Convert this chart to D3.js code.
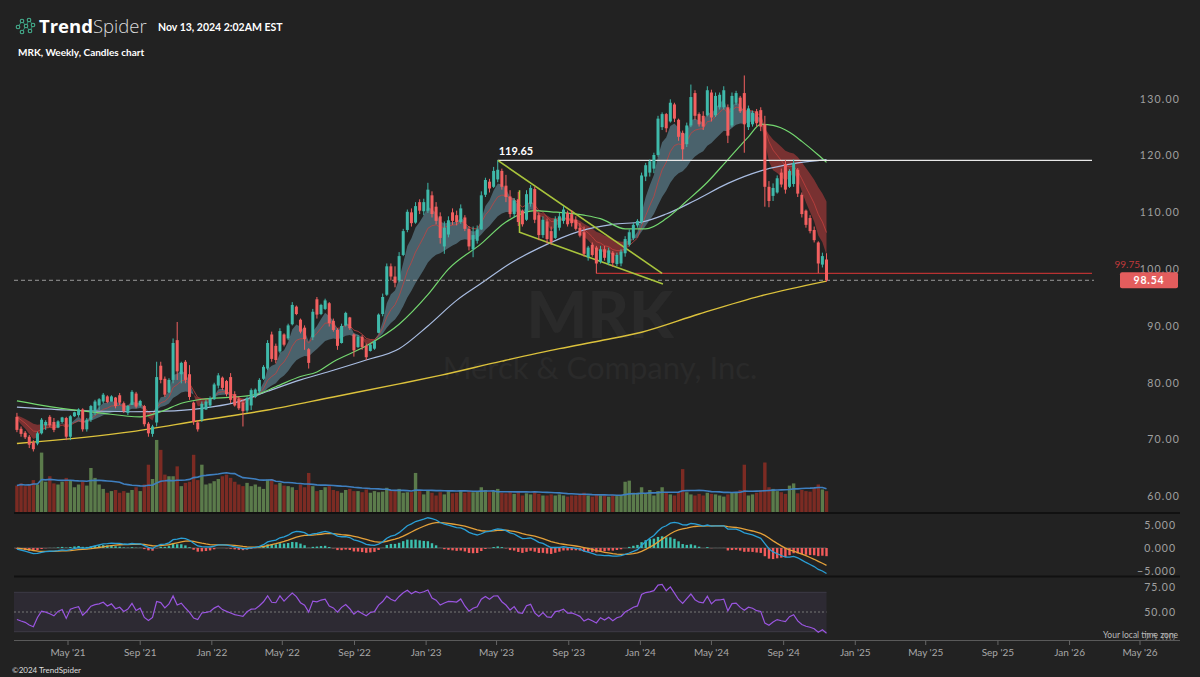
<!DOCTYPE html>
<html><head><meta charset="utf-8">
<script src="https://cdn.jsdelivr.net/npm/d3@7/dist/d3.min.js"></script>
<style>html,body{margin:0;padding:0;background:#222;}svg{display:block;}</style>
</head><body>
<svg id="chart" width="1200" height="677"></svg>
<script>
// ---------------- DATA ----------------
const ticker = "MRK";
const companyName = "Merck & Company, Inc.";
const firstWeek = "2021-02-01"; // weekly candles, one per week from here
const opens = [74.5,72.4,71.7,71.0,70.0,69.8,71.6,73.0,74.5,73.6,72.6,73.6,74.3,71.0,74.6,74.8,75.8,72.3,74.0,75.5,
76.5,77.2,78.1,77.2,77.9,78.3,76.9,75.2,76.6,78.6,76.5,76.4,73.3,71.5,73.5,83.5,81.2,78.8,81.0,88.0,
82.0,84.2,82.0,77.0,73.5,74.0,75.8,76.5,77.6,80.0,81.4,80.8,81.5,78.5,77.6,77.0,75.6,76.5,78.0,79.0,
81.2,83.0,89.0,87.0,86.0,89.0,88.3,90.8,93.9,91.6,90.2,86.4,88.5,95.2,92.6,93.5,94.5,91.4,89.8,87.5,
90.6,92.0,89.0,86.8,88.6,87.0,86.1,86.5,89.3,92.6,96.0,101.0,99.2,98.5,103.0,107.4,110.5,108.7,112.3,110.7,
110.8,113.5,111.5,109.8,104.5,106.6,110.5,110.0,108.8,109.6,107.6,104.0,105.5,107.5,113.6,115.9,115.0,116.3,117.8,115.2,
113.3,110.2,112.8,110.8,109.2,112.0,114.6,110.0,106.5,108.9,107.2,106.0,107.8,109.0,110.4,110.2,109.2,107.8,107.0,102.6,
104.8,104.3,101.8,104.0,101.6,103.4,101.4,101.5,103.3,104.8,106.0,108.2,108.8,116.8,117.5,118.2,120.6,125.5,127.8,126.5,
129.5,126.8,124.5,122.5,125.8,131.5,127.8,127.5,127.6,131.6,127.6,129.0,129.0,129.0,125.8,129.8,130.7,131.5,125.5,126.0,
128.3,128.5,126.0,115.0,113.4,114.0,117.5,119.0,115.0,115.5,118.0,113.6,110.8,109.5,107.4,105.2,101.3,102.2];
const highs = [75.2,72.8,72.0,71.3,70.4,71.9,74.3,73.9,74.8,74.3,73.9,74.5,74.5,74.8,75.4,76.0,76.0,74.3,76.6,77.5,
77.8,78.7,78.3,78.3,78.0,78.7,77.2,76.6,79.2,78.9,77.5,76.6,73.6,73.1,84.2,84.2,81.6,81.3,88.3,91.2,
84.2,84.5,83.6,77.2,73.9,77.2,77.5,78.1,80.5,82.2,81.6,81.0,82.2,79.0,78.1,77.5,78.1,79.5,79.5,81.3,
83.6,88.0,89.5,87.4,90.1,89.2,90.9,94.7,94.1,91.8,90.6,86.6,93.5,95.6,94.4,95.3,94.7,91.8,90.1,90.9,
93.0,92.1,89.2,88.9,88.9,87.4,87.4,88.0,92.7,96.2,101.5,101.5,101.0,103.5,107.6,111.0,111.2,112.3,112.8,112.9,
115.7,114.2,112.3,110.5,108.9,109.8,111.2,110.8,111.9,110.0,108.1,108.0,108.2,114.2,116.6,116.4,118.5,119.65,118.2,117.1,
114.4,113.0,114.1,111.0,114.4,115.3,115.0,110.5,109.8,109.4,108.0,109.8,110.4,111.6,110.8,110.9,109.8,108.6,108.0,104.6,
105.2,104.6,104.6,104.6,104.3,103.7,103.4,104.0,106.3,107.5,108.7,109.3,117.5,119.2,119.8,121.0,127.5,128.1,128.0,130.4,
129.8,127.0,124.9,126.3,133.0,132.0,128.1,128.3,132.7,132.1,131.6,131.6,132.7,129.5,131.6,131.9,131.0,134.6,129.3,128.4,
128.7,129.0,127.5,116.0,115.6,117.0,118.2,119.7,118.1,119.8,118.3,114.0,111.0,110.0,108.0,105.4,103.4,103.3];
const lows = [71.8,71.0,70.6,69.0,68.4,69.5,71.4,72.2,72.7,71.8,72.5,73.4,70.4,70.4,74.5,74.5,71.9,71.9,73.6,74.8,
75.7,76.9,76.9,77.2,76.0,76.6,75.2,74.8,76.6,76.0,76.3,72.8,71.0,71.0,72.8,80.4,78.0,78.7,80.4,81.0,
80.4,80.4,77.5,73.1,71.9,73.6,75.7,76.1,77.5,79.5,79.2,78.1,76.9,76.3,75.7,72.8,75.2,75.7,77.8,78.6,
81.0,82.7,84.2,83.9,85.7,86.9,88.0,90.6,92.4,89.2,86.3,83.0,88.0,91.8,92.4,93.3,90.4,89.5,86.3,87.4,
90.4,89.8,85.1,86.6,86.3,84.5,86.0,86.3,89.2,92.2,95.8,98.5,97.3,98.2,102.8,107.0,108.0,108.5,110.2,110.0,
110.4,109.6,108.4,105.0,103.2,106.1,108.3,108.2,108.5,107.2,103.8,102.6,105.0,107.4,113.2,114.0,114.8,115.8,114.5,112.3,
109.6,109.6,108.1,108.0,109.0,111.5,108.6,105.6,106.0,105.0,104.8,105.8,107.3,108.5,108.0,108.0,107.3,106.1,102.7,102.0,
102.7,99.75,101.5,102.0,101.2,100.9,101.0,101.0,102.7,104.5,105.6,107.8,108.5,116.0,116.8,117.4,120.3,125.0,124.6,126.3,
126.4,123.1,119.7,122.0,125.5,126.8,125.6,125.0,127.4,126.5,127.3,128.6,128.6,122.7,125.5,129.4,128.0,121.0,125.0,125.6,
125.6,124.8,111.5,111.4,112.5,113.8,114.9,113.8,114.8,115.0,113.2,109.6,107.8,106.8,105.2,99.8,100.8,98.3];
const closes = [72.2,71.5,70.9,69.6,68.8,71.6,74.0,73.6,73.0,72.2,73.7,74.4,71.0,74.6,75.3,75.8,72.3,74.0,76.4,77.2,
77.6,78.4,77.1,78.1,76.4,77.0,75.5,76.4,78.9,76.3,77.3,73.2,71.6,72.8,81.5,81.0,78.4,81.0,87.5,82.5,
84.0,81.0,78.0,73.6,72.3,76.8,77.2,77.8,80.2,81.8,79.6,78.5,77.5,76.5,76.0,75.5,77.8,79.2,79.3,81.0,
83.3,87.5,84.7,84.5,89.6,87.2,90.6,94.2,92.6,89.5,88.2,84.0,93.0,92.5,94.2,95.0,91.0,89.8,87.0,90.5,
92.8,90.1,86.2,88.6,86.8,85.0,87.2,87.8,92.5,95.6,101.0,99.2,98.1,102.8,107.2,110.6,108.6,111.6,110.8,112.3,
114.5,110.2,109.0,106.0,107.8,109.1,109.0,108.8,111.2,107.6,104.5,106.5,107.5,113.5,116.2,114.7,117.8,118.0,115.0,113.2,
110.2,112.6,108.8,108.4,113.7,114.8,109.2,106.5,109.2,105.8,105.3,109.3,109.8,111.0,108.4,108.6,107.6,106.4,103.2,104.3,
103.0,101.5,104.0,102.5,103.8,101.6,103.0,103.6,105.8,107.0,108.3,109.0,117.0,118.8,119.5,120.6,127.0,127.8,125.3,129.8,
127.0,123.8,121.6,125.8,130.8,127.5,126.0,125.6,132.0,127.2,131.0,131.2,132.0,124.0,131.0,131.5,128.3,126.0,128.8,128.0,
126.2,125.6,115.0,112.5,114.8,116.5,115.4,114.5,117.8,119.2,113.8,110.2,108.3,107.2,105.6,101.5,102.8,98.54];
const volumes = [48,52,47,50,58,50,108,55,65,52, 50,55,62,58,45,50,55,48,80,62,
50,42,35,38,40,35,38,35,40,45, 38,50,86,60,131,113,68,65,65,83,
47,53,55,104,58,86,50,52,56,60, 65,68,62,55,50,47,53,47,50,46,
42,59,60,50,53,48,47,45,40,50, 45,71,47,38,40,45,47,40,38,35,
40,42,38,38,36,41,35,38,36,37, 44,40,38,42,35,36,36,71,38,32,
40,35,30,36,32,38,34,35,40,35, 38,36,38,45,40,36,38,42,35,34,
38,33,36,30,34,32,36,33,30,30, 32,30,32,30,28,30,30,32,35,30,
28,32,30,30,28,30,29,31,55,57, 35,35,45,33,40,30,38,45,35,32,
30,35,78,36,32,30,33,30,35,33, 32,30,28,32,36,35,40,86,30,32,
35,40,90,45,42,38,36,33,48,52, 34,40,38,37,45,50,41,38]; // millions

// long moving averages: [week index, value]
const sma30 = [[0,77.3],[8,76.3],[20,75.2],[30,74.5],[35,75.4],[40,76.9],[45,77.6],[53,78.0],[58,78.4],[63,79.8],[69,81.6],[73,82.4],[77,84.2],[85,87.0],[93,90.8],[100,96.0],[105,100.5],[113,105.0],[119,108.8],[126,110.8],[130,110.6],[138,110.0],[142,109.4],[148,107.6],[153,107.6],[158,109.4],[163,112.5],[168,115.8],[173,119.8],[178,123.8],[181,126.0],[184,125.8],[188,124.6],[191,123.0],[195,120.6],[197,119.3]];
const sma50 = [[0,76.2],[12,75.7],[28,75.4],[36,75.5],[45,76.0],[53,77.0],[61,79.0],[69,81.0],[77,82.7],[85,84.5],[93,86.5],[100,90.5],[107,95.0],[113,98.0],[120,101.5],[127,104.2],[137,107.2],[145,108.4],[152,108.8],[158,110.2],[165,112.6],[173,115.6],[181,117.8],[190,119.2],[197,119.8]];
const sma200 = [[0,69.8],[28,71.9],[45,73.9],[61,75.7],[77,78.0],[93,80.3],[103,81.8],[118,84.3],[132,86.5],[142,87.9],[152,89.4],[166,92.6],[181,95.8],[197,98.4]];

// drawings
const resistance = {start:117, price:119.65, label:"119.65"};
const supportLevel = {start:141, price:99.75, label:"99.75"};
const lastPrice = 98.54;
const wedgeUpper = [[117,119.65],[157,99.77]];
const wedgeLower = [[122.3,114.4],[122.3,107.0],[157.2,97.9]];

// indicator seeds (state before first visible week)
const priorClose = 74.6, emaSeed = 75.0, rsiSeedGain = 0.65, rsiSeedLoss = 0.70;
const ribbonFast = 5, ribbonSlow = 21, ribbonMid = 10;

// axis labels
const priceTicks = [60,70,80,90,100,110,120,130];
const macdTicks = [5,0,-5];
const rsiTicks = [75,50,25];
const timeTicks = ["2021-05-01","2021-09-01","2022-01-01","2022-05-01","2022-09-01","2023-01-01","2023-05-01","2023-09-01","2024-01-01","2024-05-01","2024-09-01","2025-01-01","2025-05-01","2025-09-01","2026-01-01","2026-05-01"];

// ---------------- DRAW ----------------
const svg = d3.select("#chart");
const BG = "#222222";
svg.append("rect").attr("width",1200).attr("height",677).attr("fill",BG);
const FONT = "Lato, 'Open Sans', sans-serif";

const day = 864e5;
const t0 = new Date(firstWeek + "T00:00:00Z").getTime();
const dateOf = i => new Date(t0 + i*7*day + 2*day);
const n = closes.length;

const x = d3.scaleUtc().domain([new Date("2021-05-01T00:00:00Z"), new Date("2026-05-01T00:00:00Z")]).range([68,1140]);
const y = d3.scaleLinear().domain([60,130]).range([499.2,101.6]);
const yv = d3.scaleLinear().domain([0,140]).range([512,435]);
const ym = d3.scaleLinear().domain([-5,5]).range([571,525]);
const yr = d3.scaleLinear().domain([25,75]).range([636.6,587.4]);
const xi = i => x(dateOf(i));
const xEnd = 1092;

const defs = svg.append("defs");
defs.append("clipPath").attr("id","cp").append("rect").attr("x",14).attr("y",66).attr("width",1080).attr("height",446);
defs.append("clipPath").attr("id","cm").append("rect").attr("x",14).attr("y",515).attr("width",1080).attr("height",60);
defs.append("clipPath").attr("id","cr").append("rect").attr("x",14).attr("y",578).attr("width",1080).attr("height",61);

// watermark
svg.append("text").attr("x",600).attr("y",338).attr("text-anchor","middle").attr("font-family",FONT).attr("font-weight",900)
  .attr("font-size",64).attr("fill","#2a2a2a").text(ticker);
svg.append("text").attr("x",600).attr("y",379).attr("text-anchor","middle").attr("font-family",FONT)
  .attr("font-size",31).attr("fill","#2a2a2a").text(companyName);

// ---- indicators computed from closes ----
function ema(arr, period, seed){ const k=2/(period+1); let e=seed; return arr.map(v=> (e = e + k*(v-e))); }
const emaF = ema(closes,ribbonFast,emaSeed), emaS = ema(closes,ribbonSlow,emaSeed), emaM = ema(closes,ribbonMid,emaSeed);
const ema12 = ema(closes,12,emaSeed), ema26 = ema(closes,26,emaSeed);
const macd = ema12.map((v,i)=>v-ema26[i]);
const signal = ema(macd,9,0);
const hist = macd.map((v,i)=>v-signal[i]);
let ag=rsiSeedGain, al=rsiSeedLoss, pc=priorClose;
const rsi = closes.map(c=>{ const ch=c-pc; pc=c; ag=(ag*13+Math.max(ch,0))/14; al=(al*13+Math.max(-ch,0))/14; return 100-100/(1+ag/al); });
const volMA = volumes.map((v,i)=>{ const s=volumes.slice(Math.max(0,i-19),i+1); return d3.mean(s); });

const gp = svg.append("g").attr("clip-path","url(#cp)");

// volume
const bw = 3.4;
gp.append("g").selectAll("rect").data(volumes).join("rect")
  .attr("x",(d,i)=>xi(i)-bw/2).attr("width",bw)
  .attr("y",d=>yv(d)).attr("height",d=>512-yv(d))
  .attr("fill",(d,i)=> closes[i]>=opens[i] ? "#5b7b4b" : "#7c2b23");
gp.append("path").datum(volMA).attr("fill","none").attr("stroke","#3f7fbf").attr("stroke-width",1.6)
  .attr("d", d3.line().x((d,i)=>xi(i)).y(d=>yv(d)));

// ribbon (continuous areas, coloured by fast vs slow)
const idx = d3.range(n);
const bullA = d3.area().x(i=>xi(i)).y0(i=>y(emaS[i])).y1(i=>y(Math.max(emaF[i],emaS[i])));
const bearA = d3.area().x(i=>xi(i)).y0(i=>y(emaS[i])).y1(i=>y(Math.min(emaF[i],emaS[i])));
gp.append("path").datum(idx).attr("fill","rgba(108,152,170,0.55)").attr("d",bullA);
gp.append("path").datum(idx).attr("fill","rgba(192,62,62,0.55)").attr("d",bearA);
gp.append("path").datum(emaM).attr("fill","none").attr("stroke","#c8423f").attr("stroke-opacity",0.75).attr("stroke-width",1)
  .attr("d", d3.line().x((d,i)=>xi(i)).y(d=>y(d)));

// long MAs
const maLine = d3.line().x(d=>xi(d[0])).y(d=>y(d[1])).curve(d3.curveMonotoneX);
gp.append("path").datum(sma200).attr("fill","none").attr("stroke","#dcc23c").attr("stroke-width",1.4).attr("d",maLine);
gp.append("path").datum(sma50).attr("fill","none").attr("stroke","#a9bde2").attr("stroke-width",1.2).attr("d",maLine);
gp.append("path").datum(sma30).attr("fill","none").attr("stroke","#74d870").attr("stroke-width",1.2).attr("d",maLine);

// levels
gp.append("line").attr("x1",14).attr("x2",1120).attr("y1",y(lastPrice)).attr("y2",y(lastPrice))
  .attr("stroke","#9a9a9a").attr("stroke-dasharray","4,3").attr("stroke-width",1);
gp.append("line").attr("x1",xi(supportLevel.start)).attr("x2",xEnd).attr("y1",y(supportLevel.price)).attr("y2",y(supportLevel.price))
  .attr("stroke","#b83232").attr("stroke-width",1.1);
gp.append("line").attr("x1",xi(resistance.start)).attr("x2",xEnd).attr("y1",y(resistance.price)).attr("y2",y(resistance.price))
  .attr("stroke","#e8e8e8").attr("stroke-width",1.4);

// wedge
const wl = d3.line().x(d=>xi(d[0])).y(d=>y(d[1]));
gp.append("path").datum(wedgeUpper).attr("fill","none").attr("stroke","#a9c43c").attr("stroke-width",1.6).attr("d",wl);
gp.append("path").datum(wedgeLower).attr("fill","none").attr("stroke","#a9c43c").attr("stroke-width",1.6).attr("d",wl);

// candles
const cg = gp.append("g");
const UP="#3fb9aa", DN="#f26060";
closes.forEach((c,i)=>{
  const col = c>=opens[i]?UP:DN, cx=xi(i);
  cg.append("line").attr("x1",cx).attr("x2",cx).attr("y1",y(highs[i])).attr("y2",y(lows[i])).attr("stroke",col).attr("stroke-width",1);
  const top=y(Math.max(c,opens[i])), bot=y(Math.min(c,opens[i]));
  cg.append("rect").attr("x",cx-1.5).attr("width",3).attr("y",top).attr("height",Math.max(1,bot-top)).attr("fill",col);
});

svg.append("text").attr("x",xi(resistance.start)+1).attr("y",y(resistance.price)-5).attr("font-family",FONT)
  .attr("font-weight",700).attr("font-size",11).attr("fill","#ffffff").text(resistance.label);

// price axis labels
const axisTxt = {fill:"#a0a0a0", size:10.5};
priceTicks.forEach(p=>{
  svg.append("text").attr("x",1180).attr("y",y(p)+1).attr("text-anchor","end").attr("font-family",FONT)
    .attr("font-size",axisTxt.size).attr("letter-spacing",1.2).attr("fill",axisTxt.fill).text(d3.format(".2f")(p));
});
svg.append("text").attr("x",1140).attr("y",y(supportLevel.price)-5).attr("text-anchor","end").attr("font-family",FONT)
  .attr("font-size",10).attr("fill","#c0393b").text(supportLevel.label);
svg.append("rect").attr("x",1120).attr("y",y(lastPrice)-8).attr("width",58).attr("height",16).attr("rx",2).attr("fill","#e35d5d");
svg.append("text").attr("x",1149).attr("y",y(lastPrice)+4).attr("text-anchor","middle").attr("font-family",FONT)
  .attr("font-weight",700).attr("font-size",10.5).attr("letter-spacing",0.8).attr("fill","#ffffff").text(d3.format(".2f")(lastPrice));

// pane separators
[513,576.5].forEach(yy=> svg.append("line").attr("x1",14).attr("x2",1180).attr("y1",yy).attr("y2",yy).attr("stroke","#111").attr("stroke-width",2.2));

// MACD pane
const gm = svg.append("g").attr("clip-path","url(#cm)");
gm.append("line").attr("x1",14).attr("x2",xi(n-1)).attr("y1",ym(0)).attr("y2",ym(0)).attr("stroke","#555").attr("stroke-width",1);
gm.append("g").selectAll("rect").data(hist).join("rect")
  .attr("x",(d,i)=>xi(i)-1.2).attr("width",2.4)
  .attr("y",d=>d>=0?ym(d):ym(0)).attr("height",d=>Math.abs(ym(d)-ym(0)))
  .attr("fill",d=>d>=0?"#3cc0ae":"#f35b5b");
gm.append("path").datum(signal).attr("fill","none").attr("stroke","#e4a13a").attr("stroke-width",1.3).attr("d",d3.line().x((d,i)=>xi(i)).y(d=>ym(d)));
gm.append("path").datum(macd).attr("fill","none").attr("stroke","#2a9fd6").attr("stroke-width",1.3).attr("d",d3.line().x((d,i)=>xi(i)).y(d=>ym(d)));
macdTicks.forEach(v=>{
  svg.append("text").attr("x",1176).attr("y",ym(v)+4).attr("text-anchor","end").attr("font-family",FONT)
    .attr("font-size",10.5).attr("letter-spacing",1.0).attr("fill",axisTxt.fill).text(d3.format(".3f")(v).replace("-","\u2212"));
});

// RSI pane
const gr = svg.append("g").attr("clip-path","url(#cr)");
gr.append("rect").attr("x",14).attr("width",xi(n-1)-14).attr("y",yr(70)).attr("height",yr(30)-yr(70)).attr("fill","#2d2a33");
[70,30].forEach(v=> gr.append("line").attr("x1",14).attr("x2",xi(n-1)).attr("y1",yr(v)).attr("y2",yr(v)).attr("stroke","#3d3a46"));
gr.append("line").attr("x1",14).attr("x2",xi(n-1)).attr("y1",yr(50)).attr("y2",yr(50)).attr("stroke","#777").attr("stroke-dasharray","2,2");
gr.append("path").datum(rsi).attr("fill","none").attr("stroke","#9a55e0").attr("stroke-width",1.2).attr("d",d3.line().x((d,i)=>xi(i)).y(d=>yr(d)));
rsiTicks.forEach(v=>{
  svg.append("text").attr("x",1176).attr("y",yr(v)+4).attr("text-anchor","end").attr("font-family",FONT)
    .attr("font-size",10.5).attr("letter-spacing",1.0).attr("fill", v===25 ? "#777" : axisTxt.fill).text(d3.format(".2f")(v));
});

// time axis
svg.append("line").attr("x1",14).attr("x2",1180).attr("y1",640.5).attr("y2",640.5).attr("stroke","#5a5a5a");
const fmt = d3.utcFormat("%b '%y");
timeTicks.forEach(s=>{
  const d = new Date(s+"T00:00:00Z"), tx = x(d);
  svg.append("line").attr("x1",tx).attr("x2",tx).attr("y1",640.5).attr("y2",645).attr("stroke","#666");
  svg.append("text").attr("x",tx).attr("y",656).attr("text-anchor","middle").attr("font-family",FONT)
    .attr("font-size",10).attr("fill","#a8a8a8").text(fmt(d));
});
svg.append("text").attr("x",1178).attr("y",638).attr("text-anchor","end").attr("font-family",FONT)
  .attr("font-size",8.5).attr("fill","#bbbbbb").text("Your local time zone");

// header
const logo = svg.append("g");
const nodes = [[18,27],[22,21],[26,26],[22,32],[29,20],[30,31],[33,25]];
[[0,1],[1,2],[2,3],[2,4],[2,5],[4,6],[5,6]].forEach(([a,b])=> logo.append("line").attr("x1",nodes[a][0]).attr("y1",nodes[a][1]).attr("x2",nodes[b][0]).attr("y2",nodes[b][1]).attr("stroke","#2f8f78").attr("stroke-width",1));
nodes.forEach(p=> logo.append("circle").attr("cx",p[0]).attr("cy",p[1]).attr("r",1.8).attr("fill",BG).attr("stroke","#45b08f").attr("stroke-width",1.1));
const brand = svg.append("text").attr("x",39).attr("y",33).attr("font-family","'Open Sans', Lato, sans-serif").attr("font-size",18.5).attr("fill","#ffffff");
brand.append("tspan").attr("font-weight",700).text("Trend");
brand.append("tspan").attr("font-weight",300).attr("fill","#dddddd").text("Spider");
svg.append("text").attr("x",158).attr("y",31).attr("font-family",FONT).attr("font-weight",700).attr("font-size",10.5).attr("fill","#ffffff").text("Nov 13, 2024 2:02AM EST");
svg.append("text").attr("x",18).attr("y",56).attr("font-family",FONT).attr("font-weight",700).attr("font-size",10).attr("fill","#ffffff").text("MRK, Weekly, Candles chart");
svg.append("text").attr("x",12).attr("y",673).attr("font-family",FONT).attr("font-size",8).attr("fill","#dddddd").text("\u00a92024 TrendSpider");
</script>
</body></html>
